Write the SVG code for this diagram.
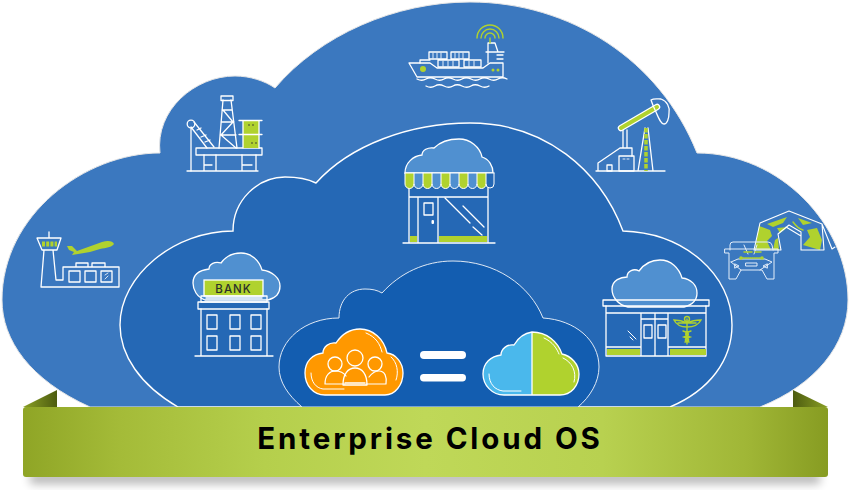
<svg xmlns="http://www.w3.org/2000/svg" width="850" height="496" viewBox="0 0 850 496">
<style>
.w{fill:none;stroke:#fff;stroke-width:1.3;stroke-linejoin:round;stroke-linecap:round}
.t{fill:none;stroke:#e4eefa;stroke-width:1;stroke-linejoin:round;stroke-linecap:round}
.g{fill:#b0d22e}
.gl{fill:none;stroke:#b0d22e;stroke-width:1.4;stroke-linecap:round}
.c{fill:#5090d0;stroke:#fff;stroke-width:1.3}
</style>
<defs>
<linearGradient id="ban" x1="0" x2="1" y1="0" y2="0">
<stop offset="0" stop-color="#8fa526"/><stop offset=".12" stop-color="#a4bb38"/><stop offset=".3" stop-color="#b5cf4c"/><stop offset=".5" stop-color="#bfd858"/><stop offset=".72" stop-color="#b8d150"/><stop offset=".9" stop-color="#a0b636"/><stop offset="1" stop-color="#879c22"/>
</linearGradient>
<linearGradient id="fl" x1="0" x2="1" y1="0" y2="0"><stop offset="0" stop-color="#8aa025"/><stop offset="1" stop-color="#4d5c10"/></linearGradient>
<linearGradient id="fr" x1="0" x2="1" y1="0" y2="0"><stop offset="0" stop-color="#4d5c10"/><stop offset="1" stop-color="#8aa025"/></linearGradient>
<filter id="sh" x="-5%" y="-50%" width="110%" height="200%"><feGaussianBlur stdDeviation="5"/></filter>
</defs>
<rect width="850" height="496" fill="#fff"/>
<g id="cloud-outer"><path d="M90 407C30 380 2 340 2 300C2 215 85 153 160 153C155 110 195 76 235 76C250 76 265 81 275 88C320 35 395 2 470 2C570 2 660 60 697 153C780 153 848 225 848 300C848 345 815 385 760 407Z" fill="#3b78bf" stroke="#e6e6e6" stroke-width="1"/></g>
<g id="cloud-middle"><path d="M178 407C140 385 120 355 120 325C120 275 175 231 233 231C233 200 258 177 285 177C296 177 308 179 316 183C350 145 410 123 470 123C545 123 600 170 623 231C685 233 732 275 732 325C732 360 710 390 670 407Z" fill="#2568b5" stroke="#fff" stroke-width="1.4"/></g>
<g id="cloud-inner"><path d="M302 407C288 395 279 382 279 367C279 340 305 318 339 318C339 300 350 289 365 289C372 289 377 290 382 293C400 273 425 261 453 261C495 261 530 285 543 318C575 320 599 340 599 367C599 382 590 397 578 407Z" fill="#135db0" stroke="#dfe9f5" stroke-width="1"/></g>

<g id="ship">
<path class="w" d="M409 63L417 77H503V63H490L483 68H437L430 63Z"/>
<path class="w" d="M420 63V60H430M488 63V52H503M488 52V43H495L498 52M497 55H503M497 59H503M486 52H504"/>
<path class="w" d="M429 52H447V59H429ZM451 52H469V59H451ZM438 60H459V67H438ZM464 60H481V67H464Z"/>
<path class="t" d="M433 53V59M437 53V59M441 53V59M455 53V59M459 53V59M463 53V59M443 61V67M448 61V67M453 61V67M469 61V67M474 61V67"/>
<circle class="g" cx="423" cy="69" r="3"/><circle class="g" cx="493" cy="70" r="1.500"/><circle class="g" cx="498" cy="70" r="1.500"/>
<path class="w" d="M417 79q5 2.500 9 0t9 0t9 0t9 0t9 0t9 0t9 0t9 0t9 0t9 0M426 86q5 2.500 9 0t9 0t9 0t9 0t9 0t9 0t9 0"/>
<path class="gl" d="M477 38A13 13 0 0 1 503 38M481 38A9 9 0 0 1 499 38M485 38A5 5 0 0 1 495 38M490 38V43"/>
</g>

<g id="oil-rig">
<path class="w" d="M187 171H258M204 155V171M216 155V171M242 155V171M256 155V171M204 165H212M242 165H252"/>
<rect class="w" x="196" y="148" width="66" height="7"/>
<rect class="w" x="221" y="96" width="12" height="4.500"/>
<path class="w" d="M223 100L219 148M231 100L237 148M222 110H232M221 122H234M220 135H236M223 110L233 122L221 135L236 148"/>
<rect class="g" x="243" y="121" width="16" height="13"/><rect class="g" x="243" y="135" width="16" height="13"/>
<path class="w" d="M239 120.500H262M239 134.500H262M243 121V148M259 121V148"/>
<circle cx="249" cy="125" r=".8" fill="#333"/><circle cx="253" cy="125" r=".8" fill="#333"/><circle cx="252" cy="143" r=".8" fill="#333"/><circle cx="256" cy="143" r=".8" fill="#333"/>
<circle class="w" cx="191" cy="124" r="3.800"/>
<path class="w" d="M191 128V171M194 122L214 147M191 127L207 148M197 130L201 128M201 137L206 135M205 142L210 140"/>
</g>

<g id="airport">
<path class="w" d="M49 232V238M37 238H61L57 250H42ZM44 250L41 287M53 250L56 280H63V267H119V287H41M76 267V263H88V267M92 267V263H105V267"/>
<path class="gl" d="M42 243H57M42 245H57" style="stroke-width:3;stroke-dasharray:3 1.200;stroke-linecap:butt"/>
<rect class="w" x="69" y="271" width="11" height="11"/><rect class="w" x="85" y="271" width="11" height="11"/><rect class="w" x="101" y="271" width="11" height="11"/>
<path class="w" d="M105 279L108 276M105 275L108 273" style="stroke-width:.8"/>
<path class="g" d="M67 246L72 246L77 251L102 242C108 240 113 241 114 244C112 247 106 248 100 249L90 252L72 255L74 252L69 250Z"/>
</g>

<g id="pumpjack">
<path class="w" d="M596 171H665M598 171V163L620 148H632V156M623 130V148M627 130V148M638 171L645 128M653 171L648 128"/>
<rect class="w" x="619" y="156" width="15" height="15"/><rect class="w" x="607" y="165" width="5" height="6"/>
<path d="M646 128V171" stroke="#b0d22e" stroke-width="3.500" stroke-dasharray="4.500 1.500" fill="none"/>
<path d="M621 128L657 107" stroke="#fff" stroke-width="6.500" stroke-linecap="round"/>
<path d="M621 128L657 107" stroke="#b0d22e" stroke-width="4" stroke-linecap="round"/>
<path class="w" d="M651 100C654 98 658 99 661 99C667 101 670 107 669 113C669 119 667 124 664 124C661 124 659 119 656 112C654 108 652 103 651 100Z"/>
<path class="t" d="M623 159H625M627 159H629"/>
</g>

<g id="store">
<path class="c" d="M405 173C405 163 413 156 422 155C422 150 428 147 434 148C440 142 450 139 459 139C470 139 480 147 482 157C489 159 493 166 493 173Z"/>
<path class="w" d="M409 188V243M488 188V243M403 243H495M409 197H488M418 198V243M438 198V243"/>
<rect class="g" x="410" y="236" width="7" height="6"/><rect class="g" x="439" y="236" width="48" height="6"/>
<rect class="w" x="424" y="203" width="9" height="12"/><rect x="431.500" y="220" width="2.500" height="4" fill="#fff" rx="1"/>
<path class="w" d="M445 198L470 223M463 206L484 227M473 227L482 235"/>
<path d="M405 173H414V184a4.400 4.400 0 0 1-9 0Z" class="g"/><path d="M414 173H423V184a4.400 4.400 0 0 1-9 0Z" fill="#5090d0"/>
<path d="M423 173H432V184a4.400 4.400 0 0 1-9 0Z" class="g"/><path d="M432 173H441V184a4.400 4.400 0 0 1-9 0Z" fill="#5090d0"/>
<path d="M441 173H450V184a4.400 4.400 0 0 1-9 0Z" class="g"/><path d="M450 173H459V184a4.400 4.400 0 0 1-9 0Z" fill="#5090d0"/>
<path d="M459 173H468V184a4.400 4.400 0 0 1-9 0Z" class="g"/><path d="M468 173H477V184a4.400 4.400 0 0 1-9 0Z" fill="#5090d0"/>
<path d="M477 173H486V184a4.400 4.400 0 0 1-9 0Z" class="g"/><path d="M486 173H494V184a4 4.400 0 0 1-8 0Z" fill="#2568b5"/>
<path class="w" d="M405 173H494M405 173V184a4.400 4.400 0 0 0 9 0a4.500 4.500 0 0 0 9 0a4.500 4.500 0 0 0 9 0a4.500 4.500 0 0 0 9 0a4.500 4.500 0 0 0 9 0a4.500 4.500 0 0 0 9 0a4.500 4.500 0 0 0 9 0a4.500 4.500 0 0 0 9 0a4.500 4.500 0 0 0 9 0a4 4 0 0 0 8 0V173M414 173V184M423 173V184M432 173V184M441 173V184M450 173V184M459 173V184M468 173V184M477 173V184M486 173V184" style="stroke-width:1"/>
</g>

<g id="bank">
<path class="c" d="M205 300C197 297 193 290 193 283C193 273 201 270 209 269C209 264 215 261 221 263C226 256 234 253 241 253C251 253 259 260 262 270C272 271 280 278 280 286C280 293 276 298 268 300Z"/>
<rect x="204" y="280" width="59" height="16" class="g" stroke="#fff" stroke-width="1.300"/>
<text x="233.500" y="292.500" text-anchor="middle" font-family="Inter, 'Liberation Sans', sans-serif" font-size="11.500" font-weight="500" letter-spacing="1" fill="#2b2f2a">BANK</text>
<path class="w" d="M201 296H267V302H201ZM206 298H262M219 302H262"/>
<rect class="w" x="198" y="302" width="71" height="7"/>
<path class="w" d="M201 309V356M267 309V356M195 356H273"/>
<path class="w" d="M207 315H217V329H207ZM230 315H240V329H230ZM251 315H261V329H251ZM207 336H217V350H207ZM230 336H240V350H230ZM251 336H261V350H251Z"/>
</g>

<g id="clinic">
<path class="c" d="M628 307C618 305 612 297 612 289C612 280 621 277 627 277C627 271 634 268 639 271C644 264 651 260 660 260C671 260 679 268 682 278C691 279 697 285 697 293C697 300 692 305 684 307Z"/>
<rect class="w" x="603" y="300" width="106" height="6"/>
<path class="w" d="M606 306V356H706V306M606 313H706M641 314V356M668 314V356M655 314V356M641 319H668M606 347H641M668 347H706"/>
<rect class="g" x="607" y="349" width="33" height="6"/><rect class="g" x="670" y="349" width="36" height="6"/>
<rect class="w" x="644" y="325" width="8" height="13"/><rect class="w" x="658" y="325" width="8" height="13"/>
<path class="w" d="M628 331L636 339M630 337L633 340" style="stroke-width:1"/>
<path class="gl" d="M674 320C680 320 683 321 687 323C691 321 694 320 701 320C698 326 692 327 687 327C682 327 677 326 674 320ZM678 323H696M687 319V344M683 331C690 333 690 335 684 337C690 339 690 341 685 342M691 331C684 333 684 335 690 337C684 339 684 341 689 342"/>
<circle class="gl" cx="687" cy="319" r="2.500"/>
</g>

<g id="tent-jeep">
<path class="g" d="M759 226L770 230L772 236L767 241L771 250H755ZM767 224L787 217L783 223L773 227ZM777 228L788 227L780 233ZM775 240L778 238L779 250H773ZM798 218L812 223L803 225ZM807 230L817 228L822 240L820 250L803 245L810 237Z"/>
<path class="gl" d="M793 222C796 226 799 229 803 230"/>
<path class="w" d="M754 250L760 223L789 211L822 224L824 250H801V232L789 225L778 234L781 250ZM822 224L832 249M832 249L835 247M786 227L801 236" style="stroke-width:1.100"/>
<path class="t" d="M730 250V245Q730 242 733 242H768Q771 242 772 245L773 250M725 249H778V253H774V279H767L762 270H741L736 279H729V253H725Z"/>
<path class="t" d="M731 262L738 259H765L772 262L760 270M731 262L741 270M735 264L739 266L735 268ZM767 264L763 266L767 268ZM746 263H757V266H746ZM744 245L748 254M757 245L754 254"/>
<path class="gl" d="M741 258H763" style="stroke-dasharray:1.200 1"/>
<circle class="g" cx="741" cy="258" r="1.800"/><circle class="g" cx="762" cy="258" r="1.800"/>
<path class="gl" d="M744 252H752M755 252H761" style="stroke-width:1.500"/>
</g>

<g id="people-cloud">
<path d="M325 395C313 395 305 385 305 373C305 361 313 354 323 353C323 347 329 342 336 343C342 334 351 329 360 329C373 329 384 339 387 353C396 354 403 363 403 373C403 385 395 395 385 395Z" fill="#ff9800" stroke="#fff" stroke-width="1.300"/>
<path class="w" d="M311 373C311 382 316 388 323 389H344M366 333C376 337 380 344 382 352M391 357C397 362 399 372 396 380" style="stroke-width:1"/>
<path class="w" d="M325 384C325 375 330 371 335 371C340 371 344 373 346 376M345 384H325M369 377C372 373 375 371 379 371C385 371 387 377 386 384H366" style="stroke-width:1.200"/>
<circle class="w" cx="335" cy="364" r="7"/><circle class="w" cx="375" cy="364" r="7"/><circle class="w" cx="355" cy="358" r="8"/>
<path class="w" d="M343 385C343 374 348 368 355 368C362 368 367 374 367 385ZM345 383H365"/>
</g>

<g id="equals"><rect x="420" y="351" width="46" height="8" rx="4" fill="#fff"/><rect x="420" y="374" width="46" height="7.500" rx="3.700" fill="#fff"/></g>

<g id="split-cloud">
<path d="M532 395H504C492 395 483 385 483 374C483 363 491 356 501 355C501 349 507 344 514 345C518 338 525 333 532 332Z" fill="#4ab8ec"/>
<path d="M532 332C547 332 558 342 562 354C571 356 579 364 579 374C579 386 571 395 560 395H532Z" fill="#b0d22e"/>
<path class="w" d="M532 395H504C492 395 483 385 483 374C483 363 491 356 501 355C501 349 507 344 514 345C518 338 525 333 532 332C547 332 558 342 562 354C571 356 579 364 579 374C579 386 571 395 560 395H532V332"/>
<path class="w" d="M489 374C489 384 495 390 503 391H521M544 338C553 342 557 349 559 354M563 358C572 362 577 372 574 382" style="stroke-width:1"/>
</g>

<g id="banner">
<path d="M23 407L57 390V407Z" fill="url(#fl)"/><path d="M793 390L828 407H793Z" fill="url(#fr)"/>
<rect x="30" y="472" width="790" height="12" fill="#000" opacity=".28" filter="url(#sh)"/>
<rect x="23" y="407" width="805" height="70" rx="3" fill="url(#ban)"/>
<text x="430" y="449" text-anchor="middle" font-family="Inter, 'Liberation Sans', sans-serif" font-size="29.500" font-weight="700" letter-spacing="2.900" fill="#000">Enterprise Cloud OS</text>
</g>
</svg>
